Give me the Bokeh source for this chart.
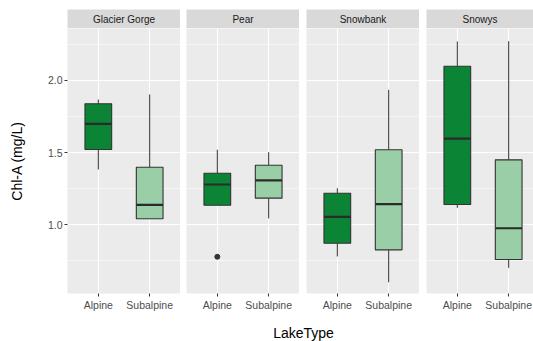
from bokeh.plotting import figure
from bokeh.layouts import column, row
from bokeh.models import Range1d, FixedTicker, Spacer, ColumnDataSource, NumeralTickFormatter
from bokeh.core.properties import value
from bokeh.embed import file_html
from bokeh.resources import INLINE

# ---- data ----
lakes = ["Glacier Gorge", "Pear", "Snowbank", "Snowys"]
lake_types = ["Alpine", "Subalpine"]
# per lake: [Alpine, Subalpine]
lower = {"Glacier Gorge": [1.382, 1.040], "Pear": [1.134, 1.042],
         "Snowbank": [0.778, 0.599], "Snowys": [1.116, 0.699]}
q1 = {"Glacier Gorge": [1.521, 1.040], "Pear": [1.134, 1.183],
      "Snowbank": [0.870, 0.824], "Snowys": [1.139, 0.757]}
median = {"Glacier Gorge": [1.699, 1.137], "Pear": [1.278, 1.306],
          "Snowbank": [1.053, 1.141], "Snowys": [1.597, 0.974]}
q3 = {"Glacier Gorge": [1.838, 1.398], "Pear": [1.356, 1.412],
      "Snowbank": [1.217, 1.519], "Snowys": [2.099, 1.449]}
upper = {"Glacier Gorge": [1.868, 1.903], "Pear": [1.519, 1.502],
         "Snowbank": [1.252, 1.935], "Snowys": [2.271, 2.273]}
outlier_lake = ["Pear"]
outlier_type = ["Alpine"]
outlier_val = [0.776]
y_ticks = [1.0, 1.5, 2.0]
y_minor = [0.75, 1.25, 1.75, 2.25]

fill_colors = ["#0B8535", "#9ACEA6"]
FONT = "Liberation Sans"

FRAME_H = 265
gaps = [67, 6, 7, 7]
frame_ws = [113, 113, 113, 107]
unit = 2.2 / 113

xpos = [i + 1 for i in range(len(lake_types))]

panels = []
strips = []
for k, lake in enumerate(lakes):
    fw = frame_ws[k]
    p = figure(frame_width=fw, frame_height=FRAME_H,
               x_range=Range1d(0.4, 0.4 + fw * unit),
               y_range=Range1d(0.521, 2.361),
               toolbar_location=None, output_backend="svg",
               background_fill_color="#EBEBEB", border_fill_color="white",
               outline_line_color=None,
               min_border_left=gaps[k], min_border_right=0,
               min_border_top=0, min_border_bottom=20)
    src = ColumnDataSource(dict(
        x=xpos, lo=lower[lake], q1=q1[lake], med=median[lake],
        q3=q3[lake], up=upper[lake], color=fill_colors))
    # whiskers
    p.segment(x0="x", y0="q3", x1="x", y1="up", source=src,
              line_color="#333333", line_width=1)
    p.segment(x0="x", y0="lo", x1="x", y1="q1", source=src,
              line_color="#333333", line_width=1)
    # boxes
    p.vbar(x="x", width=0.52, bottom="q1", top="q3", source=src,
           fill_color="color", line_color="#333333", line_width=1.1)
    # medians
    p.rect(x="x", y="med", width=0.52, height=2.2, height_units="screen",
           source=src, fill_color="#2B2B2B", line_color=None)
    # outliers
    ox = [lake_types.index(t) + 1 for l, t in zip(outlier_lake, outlier_type) if l == lake]
    oy = [v for l, v in zip(outlier_lake, outlier_val) if l == lake]
    if ox:
        p.scatter(ox, oy, size=5, color="#333333")

    p.xaxis.ticker = FixedTicker(ticks=xpos)
    p.xaxis.major_label_overrides = {x: t for x, t in zip(xpos, lake_types)}
    p.xaxis.axis_line_color = None
    p.xaxis.major_tick_line_color = "#333333"
    p.xaxis.major_tick_out = 3
    p.xaxis.major_tick_in = 0
    p.xaxis.minor_tick_line_color = None
    p.xaxis.major_label_standoff = 2
    p.xaxis.major_label_text_font = FONT
    p.xaxis.major_label_text_font_size = "10.5px"
    p.xaxis.major_label_text_color = "#4D4D4D"

    p.xgrid.ticker = FixedTicker(ticks=xpos)
    p.xgrid.grid_line_color = "white"
    p.xgrid.grid_line_width = 1.1
    p.ygrid.ticker = FixedTicker(ticks=y_ticks, minor_ticks=y_minor)
    p.ygrid.grid_line_color = "white"
    p.ygrid.grid_line_width = 1.1
    p.ygrid.minor_grid_line_color = "white"
    p.ygrid.minor_grid_line_width = 0.55

    if k == 0:
        p.yaxis.ticker = FixedTicker(ticks=y_ticks)
        p.yaxis.formatter = NumeralTickFormatter(format="0.0")
        p.yaxis.axis_line_color = None
        p.yaxis.major_tick_line_color = "#333333"
        p.yaxis.major_tick_out = 3
        p.yaxis.major_tick_in = 0
        p.yaxis.minor_tick_line_color = None
        p.yaxis.major_label_standoff = 2
        p.yaxis.major_label_text_font = FONT
        p.yaxis.major_label_text_font_size = "10.5px"
        p.yaxis.major_label_text_color = "#4D4D4D"
        p.yaxis.axis_label = "Chl-A (mg/L)"
        p.yaxis.axis_label_text_font = FONT
        p.yaxis.axis_label_text_font_size = "14px"
        p.yaxis.axis_label_text_font_style = "normal"
        p.yaxis.axis_label_text_color = "black"
        p.yaxis.axis_label_standoff = 20
    else:
        p.yaxis.visible = False
    panels.append(p)

    s = figure(width=fw, height=19, x_range=Range1d(0, 1), y_range=Range1d(0, 1),
               toolbar_location=None, output_backend="svg",
               background_fill_color="#D9D9D9", border_fill_color="#D9D9D9",
               outline_line_color=None, min_border=0,
               x_axis_location=None, y_axis_location=None)
    s.xgrid.visible = False
    s.ygrid.visible = False
    s.text(x=[0.5], y=[0.5], text=[lake], text_align="center",
           text_baseline="middle", text_font=value(FONT),
           text_font_size="10px", text_color="#1A1A1A")
    strips.append(s)

strip_row = row(Spacer(width=gaps[0], height=19), strips[0],
                Spacer(width=gaps[1], height=19), strips[1],
                Spacer(width=gaps[2], height=19), strips[2],
                Spacer(width=gaps[3], height=19), strips[3])
panel_row = row(*panels)

xt = figure(width=533, height=28, x_range=Range1d(0, 533), y_range=Range1d(0, 28),
            toolbar_location=None, output_backend="svg",
            outline_line_color=None, min_border=0,
            x_axis_location=None, y_axis_location=None)
xt.xgrid.visible = False
xt.ygrid.visible = False
xt.text(x=[303], y=[9], text=["LakeType"], text_align="center",
        text_baseline="middle", text_font=value(FONT),
        text_font_size="14px", text_color="black")

layout = column(Spacer(width=533, height=9), strip_row, panel_row, xt)

open("out.html", "w").write(file_html(layout, INLINE))
